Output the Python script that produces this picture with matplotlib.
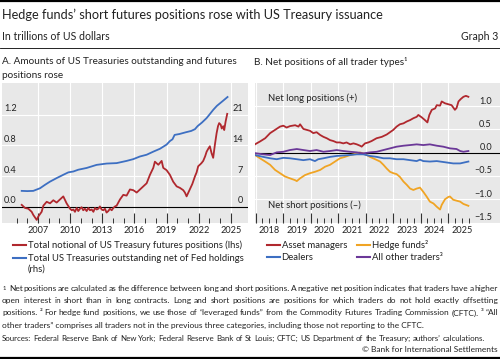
import numpy as np
import matplotlib.pyplot as plt
from matplotlib.lines import Line2D

plt.rcParams['font.family'] = ['Lato', 'DejaVu Sans']
plt.rcParams['axes.unicode_minus'] = True

# ---- panel A data (lhs: trillions of USD, rhs: trillions of USD) ----
fut_years = [2005.48, 2005.79, 2006.10, 2006.41, 2006.56, 2006.88, 2007.03, 2007.34,
             2007.50, 2007.81, 2008.12, 2008.43, 2008.74, 2009.05, 2009.36, 2009.67,
             2009.99, 2010.15, 2010.30, 2010.45, 2010.61, 2010.76, 2010.92, 2011.07,
             2011.22, 2011.38, 2011.54, 2011.70, 2011.85, 2012.01, 2012.17, 2012.32,
             2012.48, 2012.63, 2012.78, 2012.94, 2013.09, 2013.25, 2013.40, 2013.56,
             2013.72, 2013.88, 2014.03, 2014.19, 2014.34,
             2014.65, 2014.96, 2015.27, 2015.58, 2015.90, 2016.21, 2016.52, 2016.83,
             2017.14, 2017.45, 2017.76, 2017.91, 2018.23, 2018.54, 2018.69, 2019.00,
             2019.31, 2019.62, 2019.94, 2020.25, 2020.56, 2020.71, 2020.87, 2021.00,
             2021.20, 2021.40, 2021.65, 2021.80, 2021.95, 2022.10, 2022.25, 2022.42,
             2022.60, 2022.74, 2022.90, 2023.04, 2023.20, 2023.35, 2023.51, 2023.67,
             2023.80, 2023.91, 2024.05, 2024.15, 2024.29, 2024.38, 2024.51, 2024.60,
             2024.66]
fut_vals = [0.03, -0.01, -0.02, -0.06, -0.10, -0.165, -0.12, -0.06,
            0.02, 0.07, 0.05, 0.09, 0.06, 0.10, 0.14, 0.05,
            -0.02, -0.04, -0.03, -0.06, -0.01, -0.05, -0.02, 0.0,
            -0.04, -0.02, -0.05, -0.01, -0.04, -0.03, -0.06, -0.01,
            -0.03, -0.02, 0.01, -0.03, -0.04, -0.02, -0.07, -0.05,
            -0.02, -0.04, -0.01, 0.01, 0.02,
            0.10, 0.16, 0.15, 0.23, 0.22, 0.19, 0.23, 0.27,
            0.31, 0.42, 0.51, 0.59, 0.55, 0.60, 0.51, 0.48,
            0.42, 0.33, 0.27, 0.25, 0.22, 0.19, 0.14, 0.18,
            0.24, 0.30, 0.40, 0.45, 0.53, 0.55, 0.57, 0.60,
            0.66, 0.72, 0.76, 0.79, 0.70, 0.64, 0.81, 0.96,
            1.05, 1.09, 1.07, 1.02, 1.05, 1.00, 1.11, 1.17,
            1.21]

ust_years = [2005.48, 2006.00, 2006.56, 2007.19, 2007.65, 2008.12, 2008.74, 2009.36,
             2009.83, 2010.30, 2010.76, 2011.54, 2012.47, 2013.41, 2014.34, 2015.27,
             2015.89, 2016.51, 2017.14, 2017.76, 2018.38, 2019.00, 2019.31, 2019.55,
             2019.75, 2020.20, 2020.80, 2021.30, 2021.65, 2021.90, 2022.30, 2022.73,
             2023.00, 2023.36, 2023.70, 2024.00, 2024.30, 2024.69]
ust_vals = [3.7, 3.65, 3.7, 4.3, 5.07, 5.8, 6.6, 7.35,
            7.9, 8.1, 8.5, 8.9, 9.6, 9.9, 10.0, 10.5,
            10.9, 11.5, 11.9, 12.6, 13.25, 14.2, 15.0, 15.4,
            16.4, 16.6, 17.0, 17.3, 17.7, 18.4, 19.2, 20.2,
            21.0, 22.1, 23.0, 23.6, 24.2, 25.0]

# ---- panel B data (trillions of USD) ----
am_years = [2017.98, 2018.16, 2018.35, 2018.53, 2018.71, 2018.89, 2019.01, 2019.13,
            2019.25, 2019.44, 2019.56, 2019.62, 2019.74, 2019.86, 2019.98, 2020.10,
            2020.22, 2020.35, 2020.47, 2020.59, 2020.71, 2020.83, 2020.95, 2021.07,
            2021.19, 2021.31, 2021.44, 2021.56, 2021.68, 2021.80, 2021.86, 2021.98,
            2022.10, 2022.22, 2022.40, 2022.59, 2022.77, 2022.89, 2023.01, 2023.13,
            2023.25, 2023.38, 2023.50, 2023.62, 2023.74, 2023.86, 2023.92, 2024.04,
            2024.16, 2024.25, 2024.32, 2024.41, 2024.53, 2024.59, 2024.71, 2024.77,
            2024.89, 2025.01, 2025.13, 2025.25, 2025.31, 2025.38, 2025.46, 2025.56,
            2025.65, 2025.74]
am_vals = [0.18, 0.24, 0.31, 0.42, 0.49, 0.56, 0.58, 0.54,
           0.57, 0.59, 0.56, 0.61, 0.51, 0.49, 0.47, 0.42,
           0.44, 0.38, 0.34, 0.31, 0.27, 0.25, 0.22, 0.22,
           0.20, 0.22, 0.18, 0.20, 0.18, 0.15, 0.13, 0.20,
           0.22, 0.25, 0.31, 0.34, 0.39, 0.44, 0.49, 0.56,
           0.61, 0.63, 0.67, 0.70, 0.74, 0.77, 0.81, 0.76,
           0.70, 0.65, 0.81, 0.92, 0.95, 1.02, 1.01, 1.10,
           1.06, 1.04, 1.02, 0.92, 0.96, 1.10, 1.15, 1.20,
           1.22, 1.20]

hf_years = [2017.98, 2018.16, 2018.35, 2018.53, 2018.71, 2018.89, 2019.07, 2019.25,
            2019.44, 2019.50, 2019.62, 2019.80, 2019.98, 2020.16, 2020.35, 2020.53,
            2020.71, 2020.89, 2021.07, 2021.25, 2021.44, 2021.56, 2021.68, 2021.80,
            2021.92, 2022.04, 2022.16, 2022.35, 2022.53, 2022.65, 2022.77, 2022.89,
            2023.01, 2023.13, 2023.25, 2023.38, 2023.50, 2023.62, 2023.74, 2023.86,
            2023.98, 2024.10, 2024.22, 2024.34, 2024.47, 2024.59, 2024.71, 2024.77,
            2024.89, 2025.01, 2025.07, 2025.19, 2025.31, 2025.44, 2025.56, 2025.74]
hf_vals = [-0.05, -0.12, -0.19, -0.26, -0.37, -0.44, -0.51, -0.55,
           -0.59, -0.61, -0.55, -0.48, -0.44, -0.41, -0.37, -0.30,
           -0.26, -0.19, -0.12, -0.09, -0.05, -0.035, -0.015, 0.005,
           -0.015, -0.05, -0.09, -0.14, -0.19, -0.26, -0.34, -0.41,
           -0.44, -0.46, -0.52, -0.62, -0.69, -0.77, -0.80, -0.77,
           -0.75, -0.84, -0.94, -1.05, -1.09, -1.16, -1.22, -1.12,
           -1.00, -0.95, -0.94, -1.01, -1.03, -1.05, -1.10, -1.14]

dl_years = [2017.98, 2018.28, 2018.53, 2018.77, 2019.01, 2019.25, 2019.50, 2019.74,
            2019.98, 2020.16, 2020.28, 2020.47, 2020.71, 2020.95, 2021.19, 2021.44,
            2021.68, 2021.92, 2022.16, 2022.41, 2022.65, 2022.89, 2023.13, 2023.38,
            2023.62, 2023.86, 2023.98, 2024.10, 2024.34, 2024.59, 2024.71, 2024.95,
            2025.19, 2025.44, 2025.74]
dl_vals = [-0.05, -0.09, -0.12, -0.14, -0.11, -0.12, -0.14, -0.16,
           -0.14, -0.18, -0.14, -0.12, -0.09, -0.07, -0.06, -0.05,
           -0.035, -0.035, -0.07, -0.09, -0.12, -0.12, -0.14, -0.14,
           -0.16, -0.18, -0.15, -0.18, -0.19, -0.18, -0.19, -0.21,
           -0.23, -0.23, -0.19]

ot_years = [2017.98, 2018.28, 2018.53, 2018.77, 2019.01, 2019.25, 2019.50, 2019.74,
            2019.98, 2020.22, 2020.47, 2020.71, 2020.95, 2021.19, 2021.44, 2021.68,
            2021.92, 2022.16, 2022.41, 2022.65, 2022.89, 2023.13, 2023.38, 2023.62,
            2023.86, 2024.10, 2024.34, 2024.59, 2024.83, 2025.07, 2025.31, 2025.44,
            2025.56, 2025.74]
ot_vals = [-0.01, -0.035, -0.05, 0.007, 0.02, 0.057, 0.079, 0.057,
           0.036, 0.057, 0.02, 0.036, 0.057, 0.036, 0.02, 0.007,
           -0.014, 0.007, 0.02, 0.057, 0.093, 0.129, 0.15, 0.164,
           0.179, 0.164, 0.179, 0.15, 0.129, 0.093, 0.079, 0.036,
           0.02, 0.036]

a_left_ticks = [0.0, 0.4, 0.8, 1.2]
a_right_ticks = [0, 7, 14, 21]
b_ticks = [1.0, 0.5, 0.0, -0.5, -1.0, -1.5]

RED = '#b0282e'
BLUE = '#3d6fc2'
YEL = '#f0a424'
PUR = '#6b3898'
GREY = '#e8e8e8'
TXT = '#222222'
FN = 6.05  # footnote size

W, H = 500, 359
fig = plt.figure(figsize=(5, 3.59), dpi=100)
renderer = fig.canvas.get_renderer()


def fx(px):
    return px / W


def fy(py):
    return 1 - py / H


def rule(y, lw):
    fig.add_artist(Line2D([0, 1], [fy(y), fy(y)], color='black', lw=lw))


# header
rule(1, 1.6)
fig.text(fx(2), fy(15), 'Hedge funds\u2019 short futures positions rose with US Treasury issuance',
         fontsize=9.2, va='center', color=TXT)
fig.text(fx(2), fy(37), 'In trillions of US dollars', fontsize=7.6, va='center', color=TXT)
fig.text(fx(498), fy(37), 'Graph 3', fontsize=7.6, va='center', ha='right', color=TXT)
rule(48, 0.6)

# ---- panel A ----
axA = fig.add_axes([fx(2), fy(223), fx(246), 140 / H])
axA.set_facecolor(GREY)
axA.set_xlim(2003.64, 2026.6)
axA.set_ylim(-0.205, 1.61)
axA.set_yticks(a_left_ticks[1:])
axA.set_xticks(np.arange(2007, 2026, 3))
axA.set_xticks(np.arange(2005, 2026, 1), minor=True)
axA.grid(axis='both', which='major', color='white', lw=0.8)
axA.axhline(0, color='black', lw=0.8, zorder=3)
axA.tick_params(axis='y', length=0, labelleft=False)
axA.tick_params(axis='x', which='major', direction='in', length=7, width=0.8,
                color='#333333', labelsize=6.6, pad=2, labelcolor=TXT)
axA.tick_params(axis='x', which='minor', direction='in', length=3.5, width=0.7, color='#333333')
for s in axA.spines.values():
    s.set_visible(False)
axA.plot(fut_years, fut_vals, color=RED, lw=1.3, zorder=4)
for v in a_left_ticks:
    axA.annotate(f'{v:.1f}', xy=(0.008, v), xycoords=('axes fraction', 'data'),
                 xytext=(0, 4.5), textcoords='offset points', va='center',
                 fontsize=6.6, color=TXT)

axA2 = axA.twinx()
axA2.set_ylim(-0.205 * 17.5, 1.61 * 17.5)
axA2.set_yticks([])
for s in axA2.spines.values():
    s.set_visible(False)
axA2.plot(ust_years, ust_vals, color=BLUE, lw=1.3, zorder=4)
for v in a_right_ticks:
    axA2.annotate(str(v), xy=(0.98, v), xycoords=('axes fraction', 'data'),
                  xytext=(0, 4.5), textcoords='offset points', va='center', ha='right',
                  fontsize=6.6, color=TXT)

fig.text(fx(2), fy(61.7), 'A. Amounts of US Treasuries outstanding and futures',
         fontsize=7.2, va='center', color=TXT)
fig.text(fx(2), fy(75.7), 'positions rose', fontsize=7.2, va='center', color=TXT)

# ---- panel B ----
axB = fig.add_axes([fx(255), fy(223), fx(245), 140 / H])
axB.set_facecolor(GREY)
axB.set_xlim(2017.98, 2026.89)
axB.set_ylim(-1.509, 1.496)
axB.set_yticks(b_ticks)
axB.set_xticks(np.arange(2018, 2026, 1))
axB.set_xticks(np.arange(2018, 2025.8, 0.25), minor=True)
axB.grid(axis='both', which='major', color='white', lw=0.8)
axB.axhline(0, color='black', lw=0.8, zorder=3)
axB.tick_params(axis='y', length=0, labelleft=False)
axB.tick_params(axis='x', which='major', direction='in', length=7, width=0.8,
                color='#333333', labelbottom=False)
axB.tick_params(axis='x', which='minor', direction='in', length=3.5, width=0.7, color='#333333')
for s in axB.spines.values():
    s.set_visible(False)
axB.plot(am_years, am_vals, color=RED, lw=1.3, zorder=4)
axB.plot(hf_years, hf_vals, color=YEL, lw=1.3, zorder=4)
axB.plot(dl_years, dl_vals, color=BLUE, lw=1.3, zorder=4)
axB.plot(ot_years, ot_vals, color=PUR, lw=1.3, zorder=4)
for yr in range(2018, 2026):
    axB.text(yr + 0.5, -0.02, str(yr), transform=axB.get_xaxis_transform(),
             ha='center', va='top', fontsize=6.6, color=TXT)
for v in b_ticks:
    lab = f'{v:.1f}'.replace('-', '\u2212')
    axB.annotate(lab, xy=(0.967, v), xycoords=('axes fraction', 'data'),
                 xytext=(0, 3.6), textcoords='offset points', va='center', ha='right',
                 fontsize=6.6, color=TXT)
axB.text(0.053, 0.893, 'Net long positions (+)', transform=axB.transAxes,
         va='center', fontsize=6.8, color=TXT)
axB.text(0.053, 0.129, 'Net short positions (\u2013)', transform=axB.transAxes,
         va='center', fontsize=6.8, color=TXT)

fig.text(fx(253.5), fy(61.7), 'B. Net positions of all trader types\u00b9',
         fontsize=7.2, va='center', color=TXT)


# ---- legends ----
def legend_item(x, y, color, label):
    fig.add_artist(Line2D([fx(x), fx(x + 13)], [fy(y), fy(y)], color=color, lw=1.5))
    fig.text(fx(x + 14.5), fy(y), label, fontsize=6.8, va='center', color=TXT)


legend_item(13.3, 245, RED, 'Total notional of US Treasury futures positions (lhs)')
legend_item(13.3, 258.3, BLUE, 'Total US Treasuries outstanding net of Fed holdings')
fig.text(fx(27.8), fy(269.5), '(rhs)', fontsize=6.8, va='center', color=TXT)
legend_item(267, 245, RED, 'Asset managers')
legend_item(357, 245, YEL, 'Hedge funds\u00b2')
legend_item(267, 257.3, BLUE, 'Dealers')
legend_item(357, 257.3, PUR, 'All other traders\u00b3')


# ---- footnotes ----
def justify(y, line, x0=2, x1=498, size=FN):
    # words share one baseline so letters with descenders do not jump
    words = line.split()
    ts = [fig.text(0, fy(y + 2.4), w, fontsize=size, va='baseline', color=TXT) for w in words]
    widths = [t.get_window_extent(renderer).width for t in ts]
    gap = (x1 - x0 - sum(widths)) / (len(words) - 1)
    x = x0
    for t, w in zip(ts, widths):
        t.set_x(fx(x))
        x += w + gap


fig.text(fx(3), fy(288), '1', fontsize=4.3, va='center', color=TXT)
justify(289, 'Net positions are calculated as the difference between long and short positions. '
        'A negative net position indicates that traders have a higher', x0=9)
justify(301, 'open interest in short than in long contracts. Long and short positions are '
        'positions for which traders do not hold exactly offsetting')
justify(313, 'positions. \u00b2 For hedge fund positions, we use those of \u201cleveraged funds\u201d '
        'from the Commodity Futures Trading Commission (CFTC). \u00b3 \u201cAll')
fig.text(fx(2), fy(325.7), 'other traders\u201d comprises all traders not in the previous three '
         'categories, including those not reporting to the CFTC.', fontsize=FN, va='center', color=TXT)
justify(338.3, 'Sources: Federal Reserve Bank of New York; Federal Reserve Bank of St Louis; '
        'CFTC; US Department of the Treasury; authors\u2019 calculations.', x1=485, size=5.7)
fig.text(fx(498), fy(350), '\u00a9 Bank for International Settlements', fontsize=FN,
         va='center', ha='right', color=TXT)
rule(357.7, 1.6)

fig.savefig('out.png', dpi=100)
